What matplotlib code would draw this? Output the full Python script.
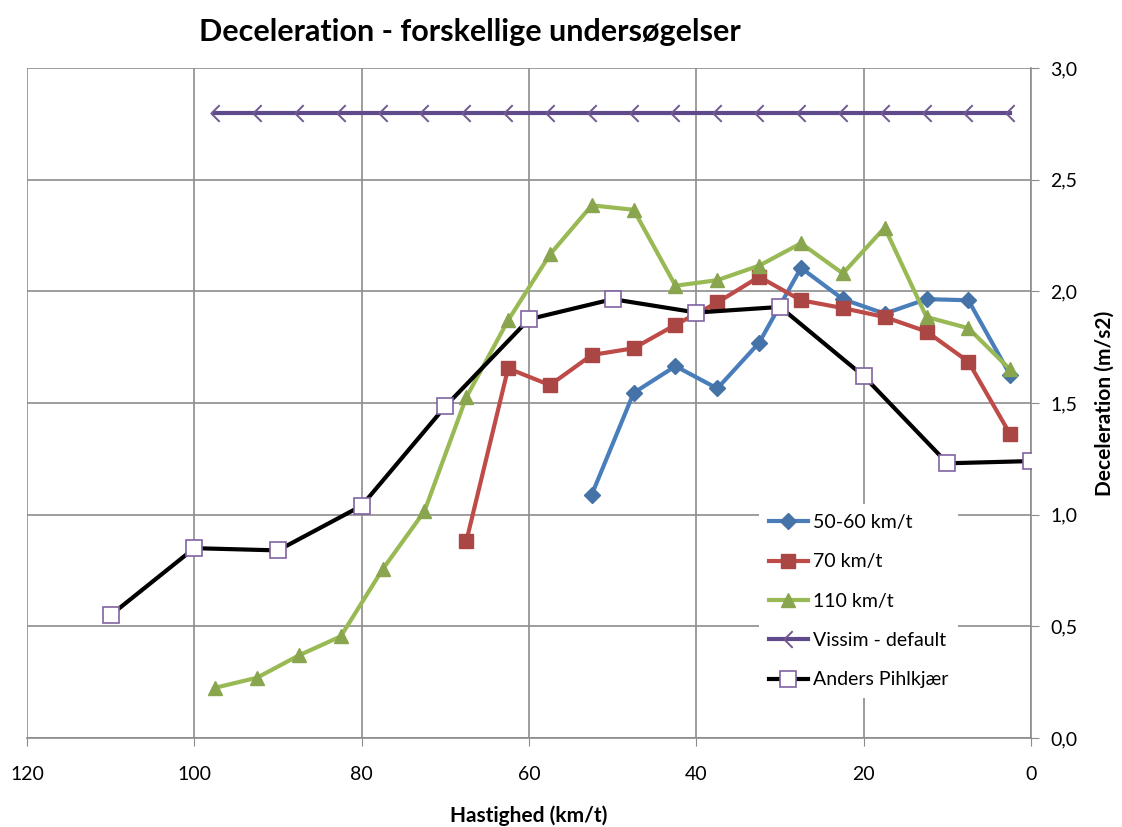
from matplotlib import pyplot as plt
from matplotlib.path import Path
from matplotlib.ticker import FuncFormatter
import numpy as np

plt.rcParams['font.family'] = ['Lato', 'DejaVu Sans']

#%%
# data

x_5060 = [52.5, 47.5, 42.5, 37.5, 32.5, 27.5, 22.5, 17.5, 12.5, 7.5, 2.5]
y_5060 = [1.09, 1.545, 1.665, 1.565, 1.77, 2.105, 1.965, 1.9, 1.965, 1.96, 1.625]

x_70 = [67.5, 62.5, 57.5, 52.5, 47.5, 42.5, 37.5, 32.5, 27.5, 22.5, 17.5, 12.5, 7.5, 2.5]
y_70 = [0.88, 1.655, 1.58, 1.715, 1.745, 1.85, 1.95, 2.065, 1.96, 1.925, 1.885, 1.82, 1.685, 1.36]

x_110 = [97.5, 92.5, 87.5, 82.5, 77.5, 72.5, 67.5, 62.5, 57.5, 52.5,
         47.5, 42.5, 37.5, 32.5, 27.5, 22.5, 17.5, 12.5, 7.5, 2.5]
y_110 = [0.225, 0.27, 0.37, 0.455, 0.755, 1.015, 1.525, 1.87, 2.165, 2.385,
         2.365, 2.025, 2.05, 2.115, 2.215, 2.08, 2.285, 1.885, 1.835, 1.65]

x_vissim = [97.5, 92.5, 87.5, 82.5, 77.5, 72.5, 67.5, 62.5, 57.5, 52.5,
            47.5, 42.5, 37.5, 32.5, 27.5, 22.5, 17.5, 12.5, 7.5, 2.5]
y_vissim = [2.8] * len(x_vissim)

x_anders = [110, 100, 90, 80, 70, 60, 50, 40, 30, 20, 10, 0]
y_anders = [0.55, 0.85, 0.84, 1.04, 1.485, 1.875, 1.965, 1.905, 1.93, 1.62, 1.23, 1.24]

#%%

fig = plt.figure(figsize=(11.22, 8.27), dpi=100)
ax = fig.add_axes([0.024, 0.1076, 0.895, 0.8102])

# open "<" shape like the Vissim marker in the original
chevron = Path([(0.5, 1.0), (-0.5, 0.0), (0.5, -1.0)],
               [Path.MOVETO, Path.LINETO, Path.LINETO])

ax.plot(x_5060, y_5060, color='#4A7EBB', lw=3, marker='D', ms=8,
        mfc='#4572A7', mec='#4572A7', label='50-60 km/t', zorder=4)
ax.plot(x_70, y_70, color='#BE4B48', lw=3, marker='s', ms=10,
        mfc='#AA4643', mec='#AA4643', label='70 km/t', zorder=4)
ax.plot(x_110, y_110, color='#98B954', lw=3, marker='^', ms=10,
        mfc='#89A54E', mec='#89A54E', label='110 km/t', zorder=4)
ax.plot(x_vissim, y_vissim, color='#5F4B8B', lw=3, marker=chevron, ms=12,
        mfc='none', mec='#71588F', mew=1.4, label='Vissim - default', zorder=4)
ax.plot(x_anders, y_anders, color='black', lw=3, marker='s', ms=11,
        mfc='white', mec='#8064A2', mew=1.2, label='Anders Pihlkjær', zorder=5)

ax.set_xlim(120, 0)
ax.set_ylim(0, 3.0)
ax.set_xticks(np.arange(0, 121, 20))
ax.set_yticks(np.arange(0, 3.01, 0.5))
ax.yaxis.set_major_formatter(FuncFormatter(lambda v, p: ('%.1f' % v).replace('.', ',')))

ax.grid(True, color='#8C8C8C', lw=1.2)
ax.set_axisbelow(True)
for s in ['left', 'top']:
    ax.spines[s].set_visible(False)
ax.spines['right'].set_color('#8C8C8C')
ax.spines['bottom'].set_color('#8C8C8C')
ax.spines['right'].set_linewidth(1.2)
ax.spines['bottom'].set_linewidth(1.2)

ax.yaxis.tick_right()
ax.yaxis.set_label_position('right')
ax.tick_params(axis='y', direction='out', length=6, color='#8C8C8C', labelsize=14, pad=8)
ax.tick_params(axis='x', direction='out', length=6, color='#8C8C8C', labelsize=14, pad=14)

ax.set_xlabel('Hastighed (km/t)', weight='bold', fontsize=15, labelpad=16)
ax.set_ylabel('Deceleration (m/s2)', weight='bold', fontsize=15, labelpad=12)

fig.text(0.419, 0.961, 'Deceleration - forskellige undersøgelser',
         ha='center', va='center', weight='bold', fontsize=22)

leg = ax.legend(loc='upper left', bbox_to_anchor=(0.668, 0.402), bbox_transform=fig.transFigure,
                frameon=True, fontsize=14, handlelength=2.0, handletextpad=0.25,
                labelspacing=1.15, borderpad=0.5)
leg.get_frame().set_edgecolor('none')
leg.get_frame().set_facecolor('white')
leg.get_frame().set_alpha(1)

plt.savefig('out.png', dpi=100)
